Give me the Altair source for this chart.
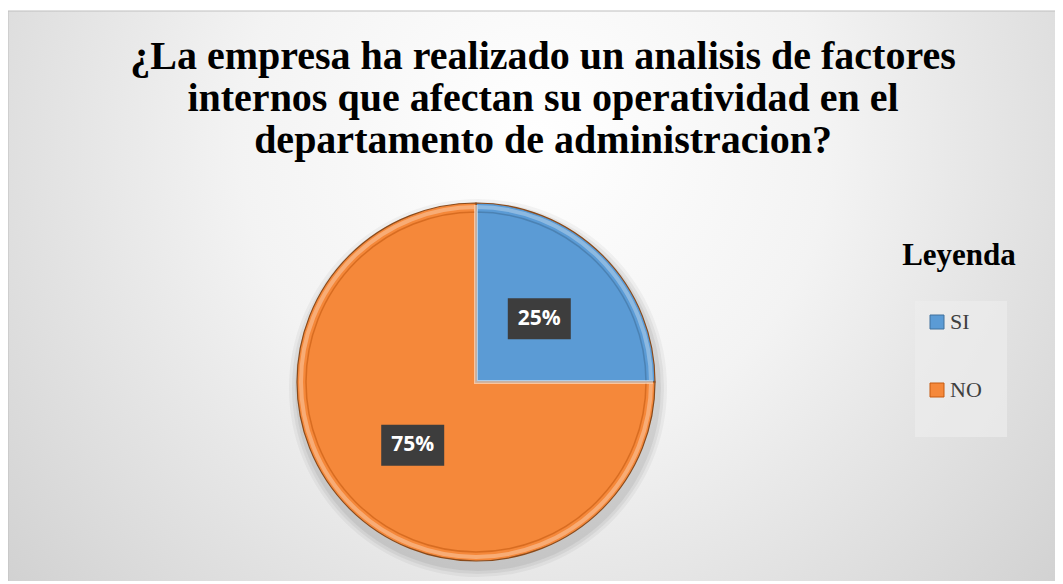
import altair as alt
import pandas as pd

CATEGORIES = ["SI", "NO"]
VALUES = [25, 75]
LABELS = ["25%", "75%"]
COLORS = ["#5B9BD5", "#F5883A"]
STROKES = ["#41719C", "#C55A11"]
TITLE_LINES = [
    "¿La empresa ha realizado un analisis de factores",
    "internos que afectan su operatividad en el",
    "departamento de administracion?",
]
LEGEND_TITLE = "Leyenda"

df = pd.DataFrame({"cat": CATEGORIES, "value": VALUES, "label": LABELS,
                   "ord": list(range(len(CATEGORIES)))})

S = 358  # plot area (pie diameter)
R = S / 2

color_scale = alt.Scale(domain=CATEGORIES, range=COLORS)
xs = alt.Scale(domain=[-1, 1])
ys = alt.Scale(domain=[-1, 1])

base = alt.Chart(df)
one = base.transform_filter("datum.ord == 0")

# background with radial gradient (drawn beyond the plot area)
bg = one.mark_rect(
    fill=alt.Gradient(gradient="radial", x1=0.5, y1=0.35, r1=0.0, x2=0.5, y2=0.35, r2=0.8,
                      stops=[alt.GradientStop(offset=0, color="#ffffff"),
                             alt.GradientStop(offset=0.35, color="#f3f3f3"),
                             alt.GradientStop(offset=1, color="#c4c4c4")]),
    stroke="#bfbfbf", strokeWidth=1,
).encode(x=alt.value(-289), x2=alt.value(766), y=alt.value(-192), y2=alt.value(385))

# soft shadow under the pie
shadows = []
for extra, op in [(10, 0.04), (7, 0.05), (4, 0.06)]:
    shadows.append(
        one.mark_arc(theta=0, theta2=6.2832, outerRadius=R + extra, fill="#000000", opacity=op
                     ).encode(x=alt.value(R + 2), y=alt.value(R + 6))
    )

pie = base.mark_arc(outerRadius=R, stroke="#8a4a1a", strokeWidth=1.2).encode(
    theta=alt.Theta("value:Q", stack=True),
    order=alt.Order("ord:Q"),
    color=alt.Color("cat:N", scale=color_scale, sort=CATEGORIES,
                    legend=alt.Legend(title=None, orient="none", legendX=629, legendY=108,
                                      symbolType="square", symbolSize=196,
                                      symbolStrokeWidth=1, symbolStrokeColor="#555555",
                                      labelFont="Liberation Serif", labelFontSize=22,
                                      labelColor="#404040", labelOffset=2,
                                      rowPadding=46, padding=0)),
)

bevel = base.mark_arc(outerRadius=R - 9, fillOpacity=0, strokeWidth=1.5, strokeOpacity=0.6).encode(
    theta=alt.Theta("value:Q", stack=True),
    order=alt.Order("ord:Q"),
    stroke=alt.Color("cat:N", scale=alt.Scale(domain=CATEGORIES, range=STROKES), legend=None),
)

rim = base.mark_arc(outerRadius=R - 4, fillOpacity=0, strokeWidth=4, strokeOpacity=0.3,
                    stroke="#ffffff").encode(
    theta=alt.Theta("value:Q", stack=True),
    order=alt.Order("ord:Q"),
)

lab = base.transform_window(
    cum="sum(value)", sort=[alt.SortField("ord")]
).transform_joinaggregate(total="sum(value)").transform_calculate(
    mid="(datum.cum - datum.value / 2) / datum.total * 2 * PI",
).transform_calculate(
    lx="sin(datum.mid) * 0.5", ly="cos(datum.mid) * 0.5"
)

boxes = lab.mark_rect(width=63, height=41, color="#3d3d3d").encode(
    x=alt.X("lx:Q", scale=xs, axis=None),
    y=alt.Y("ly:Q", scale=ys, axis=None),
)
texts = lab.mark_text(font="Open Sans", fontWeight="bold", fontSize=21, color="#ffffff",
                      baseline="middle", align="center").encode(
    x=alt.X("lx:Q", scale=xs, axis=None),
    y=alt.Y("ly:Q", scale=ys, axis=None),
    text="label:N",
)

title = one.mark_text(
    text=TITLE_LINES, font="Liberation Serif", fontWeight="bold", fontSize=40,
    lineHeight=42, align="center", baseline="alphabetic", color="#000000",
).encode(x=alt.value(246), y=alt.value(-134))

leg_box = one.mark_rect(fill="#ececec", opacity=0.7).encode(
    x=alt.value(618), x2=alt.value(710), y=alt.value(98), y2=alt.value(234))

leg_title = one.mark_text(
    text=LEGEND_TITLE, font="Liberation Serif", fontWeight="bold", fontSize=31,
    align="center", baseline="alphabetic", color="#000000",
).encode(x=alt.value(662), y=alt.value(62))

chart = alt.layer(bg, *shadows, pie, bevel, rim, leg_box, leg_title, title, boxes, texts).properties(
    width=S, height=S,
    autosize=alt.AutoSizeParams(type="none"),
    padding={"left": 289, "top": 195, "right": 400, "bottom": 20},
    background="#ffffff",
).configure_view(stroke=None)

chart.save("out.html", embed_options={"renderer": "svg", "actions": False})
